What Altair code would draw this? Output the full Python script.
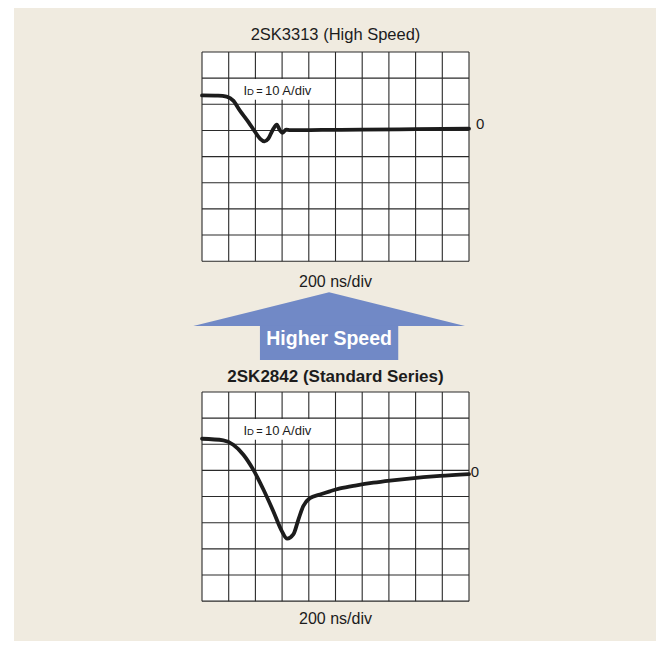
import altair as alt
import pandas as pd

# ---------------- data (divisions: x = 200 ns/div, y = 10 A/div) ----------------
top_t = [0, 0.6, 0.92, 1.17, 1.42, 1.74, 1.99, 2.18, 2.34, 2.48, 2.67, 2.80, 2.92, 3.02, 3.15, 3.30, 4.5, 6.0, 8.0, 10.0]
top_i = [1.34, 1.33, 1.29, 1.14, 0.76, 0.32, -0.06, -0.32, -0.42, -0.32, 0.06, 0.22, 0.0, -0.09, 0.03, 0.01, 0.02, 0.03, 0.05, 0.07]

bot_t = [0, 0.80, 1.17, 1.55, 1.92, 2.30, 2.67, 2.99, 3.19, 3.42, 3.61, 3.79, 4.04, 4.42, 4.79, 5.17, 5.79, 6.42, 7.04, 7.67, 8.29, 8.91, 10.0]
bot_i = [1.21, 1.15, 0.98, 0.60, 0.03, -0.73, -1.56, -2.32, -2.61, -2.45, -1.88, -1.37, -1.06, -0.92, -0.80, -0.69, -0.57, -0.47, -0.39, -0.32, -0.26, -0.21, -0.14]

panel_titles = ["2SK3313 (High Speed)", "2SK2842 (Standard Series)"]
panel_offsets = [0, -13]          # vertical position of each scope, in divisions
x_label = "200 ns/div"
arrow_text = "Higher Speed"
n_cols, n_rows = 10, 8
grid_top_div, grid_bottom_div = 3, -5   # zero line is 3 divisions below grid top

# ---------------- layout ----------------
W, H = 648, 633
PXX, PXY = 26.7, 26.15
GRID_LEFT, GRID_TOP = 194, 44
xmin = -GRID_LEFT / PXX
xmax = xmin + W / PXX
ymax = grid_top_div + GRID_TOP / PXY
ymin = ymax - H / PXY
xs = alt.Scale(domain=[xmin, xmax], nice=False, zero=False)
ys = alt.Scale(domain=[ymin, ymax], nice=False, zero=False)
FONT = "Liberation Sans"
BEIGE = "#F0EBE0"
INK = "#1c1c1c"


def X(f="x"):
    return alt.X(f"{f}:Q", scale=xs, axis=None)


def Y(f="y"):
    return alt.Y(f"{f}:Q", scale=ys, axis=None)


# background panel
bg = alt.Chart(pd.DataFrame({"a": [0]})).mark_rect(color=BEIGE).encode(
    x=alt.value(6), x2=alt.value(W), y=alt.value(0), y2=alt.value(H)
)

# grid fills and lines
fill_rows, rule_rows = [], []
for off in panel_offsets:
    fill_rows.append({"x": 0, "x2": n_cols, "y": grid_bottom_div + off, "y2": grid_top_div + off})
    for c in range(n_cols + 1):
        rule_rows.append({"x": c, "x2": c, "y": grid_bottom_div + off, "y2": grid_top_div + off})
    for r in range(n_rows + 1):
        yy = grid_bottom_div + r + off
        rule_rows.append({"x": 0, "x2": n_cols, "y": yy, "y2": yy})
fills = alt.Chart(pd.DataFrame(fill_rows)).mark_rect(color="white").encode(
    x=X(), x2="x2:Q", y=Y(), y2="y2:Q"
)
rules = alt.Chart(pd.DataFrame(rule_rows)).mark_rule(color="#2a2a2a", strokeWidth=1.1).encode(
    x=X(), x2="x2:Q", y=Y(), y2="y2:Q"
)

# label boxes "ID = 10 A/div"
box_rows = [{"x": 1.05, "x2": 4.45, "y": 1.17 + off, "y2": 1.97 + off} for off in panel_offsets]
boxes = alt.Chart(pd.DataFrame(box_rows)).mark_rect(color="white").encode(
    x=X(), x2="x2:Q", y=Y(), y2="y2:Q"
)
lab_rows = []
for off in panel_offsets:
    lab_rows += [
        {"x": 1.55, "y": 1.37 + off, "t": "I", "s": 13},
        {"x": 1.69, "y": 1.37 + off, "t": "D", "s": 9.5},
        {"x": 2.03, "y": 1.37 + off, "t": "=", "s": 11},
        {"x": 2.36, "y": 1.37 + off, "t": "10 A/div", "s": 13},
    ]
labels = alt.Chart(pd.DataFrame(lab_rows)).mark_text(
    align="left", baseline="alphabetic", font=FONT, color=INK
).encode(x=X(), y=Y(), text="t:N", size=alt.Size("s:Q", scale=None, legend=None))

# curves
curve_df = pd.concat([
    pd.DataFrame({"t": top_t, "i": top_i, "panel": panel_titles[0], "off": panel_offsets[0]}),
    pd.DataFrame({"t": bot_t, "i": bot_i, "panel": panel_titles[1], "off": panel_offsets[1]}),
])
curve_df["y"] = curve_df["i"] + curve_df["off"]
curves = alt.Chart(curve_df).mark_line(
    color=INK, strokeWidth=3.8, interpolate="monotone", strokeCap="round", strokeJoin="round"
).encode(x=X("t"), y=Y(), detail="panel:N")

# zero labels
zero_df = pd.DataFrame({"x": [10.26, 10.07], "y": [0.23 + panel_offsets[0], -0.08 + panel_offsets[1]], "t": ["0", "0"]})
zeros = alt.Chart(zero_df).mark_text(
    align="left", baseline="middle", font=FONT, fontSize=15, color=INK
).encode(x=X(), y=Y(), text="t:N")

# titles and x labels
title_df = pd.DataFrame({
    "x": [5.0, 5.0], "y": [3.46, 3.39 + panel_offsets[1]], "t": panel_titles,
})
titles_top = alt.Chart(title_df.iloc[[0]]).mark_text(
    align="center", baseline="alphabetic", font=FONT, fontSize=16.5, color=INK
).encode(x=X(), y=Y(), text="t:N")
titles_bot = alt.Chart(title_df.iloc[[1]]).mark_text(
    align="center", baseline="alphabetic", font=FONT, fontSize=17, fontWeight="bold", color=INK
).encode(x=X(), y=Y(), text="t:N")
xl_df = pd.DataFrame({"x": [5.0, 5.0], "y": [-5.97, -5.87 + panel_offsets[1]], "t": [x_label, x_label]})
xlabels = alt.Chart(xl_df).mark_text(
    align="center", baseline="alphabetic", font=FONT, fontSize=16, color=INK
).encode(x=X(), y=Y(), text="t:N")

# arrow
ARROW = "#7189C6"
tri_df = pd.DataFrame({"x": [-0.326, 4.76, 9.85], "y": [-7.478, -6.19, -7.478], "y2": [-7.478] * 3})
tri = alt.Chart(tri_df).mark_area(color=ARROW, interpolate="linear").encode(
    x=X(), y=Y(), y2="y2:Q"
)
stem = alt.Chart(pd.DataFrame({"x": [2.17], "x2": [7.35], "y": [-8.778], "y2": [-7.45]})).mark_rect(
    color=ARROW
).encode(x=X(), x2="x2:Q", y=Y(), y2="y2:Q")
arrow_lbl = alt.Chart(pd.DataFrame({"x": [4.76], "y": [-8.205], "t": [arrow_text]})).mark_text(
    align="center", baseline="alphabetic", font=FONT, fontSize=19.5, fontWeight="bold", color="white"
).encode(x=X(), y=Y(), text="t:N")

chart = alt.layer(
    bg, fills, rules, boxes, labels, curves, zeros, titles_top, titles_bot, xlabels, tri, stem, arrow_lbl
).properties(
    width=W, height=H, padding=0, autosize=alt.AutoSizeParams(type="none"), background="white"
).configure_view(stroke=None)

chart.save("out.html", embed_options={"renderer": "svg", "actions": False})
